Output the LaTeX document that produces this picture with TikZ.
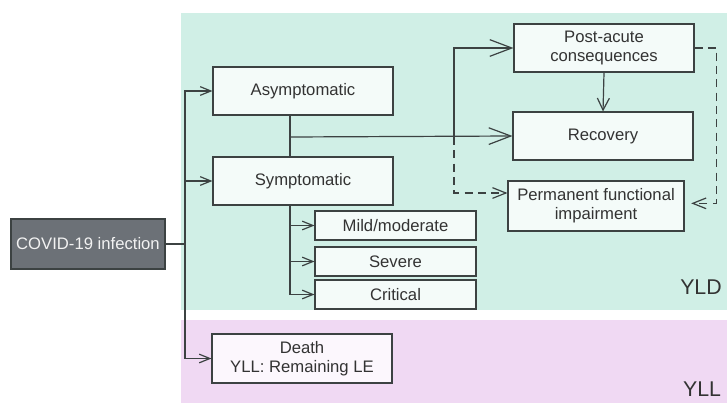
\documentclass[tikz,border=0pt]{standalone}
\usepackage{fontspec}
\setmainfont{Liberation Sans}
\usetikzlibrary{positioning}
\usetikzlibrary{arrows.meta}
\usetikzlibrary{calc}

\definecolor{yldgreen}{HTML}{D0EFE6}
\definecolor{yllpink}{HTML}{F0D9F3}
\definecolor{boxgreen}{HTML}{F4FBF9}
\definecolor{boxpink}{HTML}{FCF7FD}
\definecolor{infgray}{HTML}{6C7177}
\definecolor{linegray}{HTML}{3C4242}

\begin{document}
\begin{tikzpicture}[
    x=0.75pt, y=-0.75pt,
    font=\fontsize{12.5}{14}\selectfont, text=black!80,
    box/.style={draw=linegray, line width=0.8pt, fill=boxgreen, minimum width=135pt, minimum height=36pt, align=center, inner sep=2pt},
    subbox/.style={box, minimum width=120.75pt, minimum height=21.75pt},
    arr/.style={draw=linegray, line width=0.9pt, -{Straight Barb[length=8pt,width=6.5pt]}},
    bigarr/.style={arr, -{Straight Barb[length=16.5pt,width=12.5pt]}},
    midarr/.style={arr, -{Straight Barb[length=9pt,width=9pt]}},
    dasharr/.style={arr, dashed, dash pattern=on 6pt off 4pt, -{Straight Barb[length=10pt,width=8pt]}}
]
    \useasboundingbox (0,0) rectangle (727,403);

    % YLD and YLL areas
    \fill[yldgreen] (181,13) rectangle (727,310);
    \fill[yllpink] (181,320) rectangle (727,403);
    \node (yld) at (701,287) {\fontsize{16}{18}\selectfont YLD};
    \node (yll) at (702,389) {\fontsize{16}{18}\selectfont YLL};

    % Infection and first outcomes
    \node[box, fill=infgray, text=white!95!black, minimum width=115.5pt, minimum height=37.5pt] (inf) at (88,244) {COVID-19 infection};
    \node[box] (asym) at (303,91) {Asymptomatic};
    \node[box] (symp) at (303,181) {Symptomatic};
    \node[box, fill=boxpink, minimum height=36.75pt] (death) at (302,358.5) {Death\\YLL: Remaining LE};

    % Severity levels
    \node[subbox] (mild) at (395.5,225.5) {Mild/moderate};
    \node[subbox] (severe) at (395.5,261.5) {Severe};
    \node[subbox] (critical) at (395.5,294.5) {Critical};

    % Longer term outcomes
    \node[box] (post) at (604,48) {Post-acute\\consequences};
    \node[box] (recov) at (603,136) {Recovery};
    \node[box, minimum width=132pt, minimum height=37.5pt] (perm) at (596,206) {Permanent functional\\impairment};

    % Branching points
    \coordinate (split) at (185,244);
    \coordinate (j1) at (290,137);
    \coordinate (j2) at (454,137);

    % Connectors
    \draw[draw=linegray, line width=0.9pt] (inf.east) -- (split);
    \draw[arr] (split) |- (asym.west);
    \draw[arr] (split) |- (symp.west);
    \draw[arr] (split) |- (death.west);
    \draw[draw=linegray, line width=0.9pt] (asym.south -| j1) -- (symp.north -| j1);
    \draw[bigarr] (j1) -- (recov.west);
    \draw[bigarr] (j2) |- (post.west);
    \draw[midarr] (post.south) -- (recov.north);
    \draw[dasharr] (j2) |- ([yshift=9.75pt]perm.west);
    \draw[dasharr, shorten >=5pt] (post.east) -- ++(22,0) |- ([yshift=2pt]perm.east);
    \draw[arr] (symp.south -| j1) |- (mild.west);
    \draw[arr] (symp.south -| j1) |- (severe.west);
    \draw[arr] (symp.south -| j1) |- (critical.west);
\end{tikzpicture}
\end{document}
